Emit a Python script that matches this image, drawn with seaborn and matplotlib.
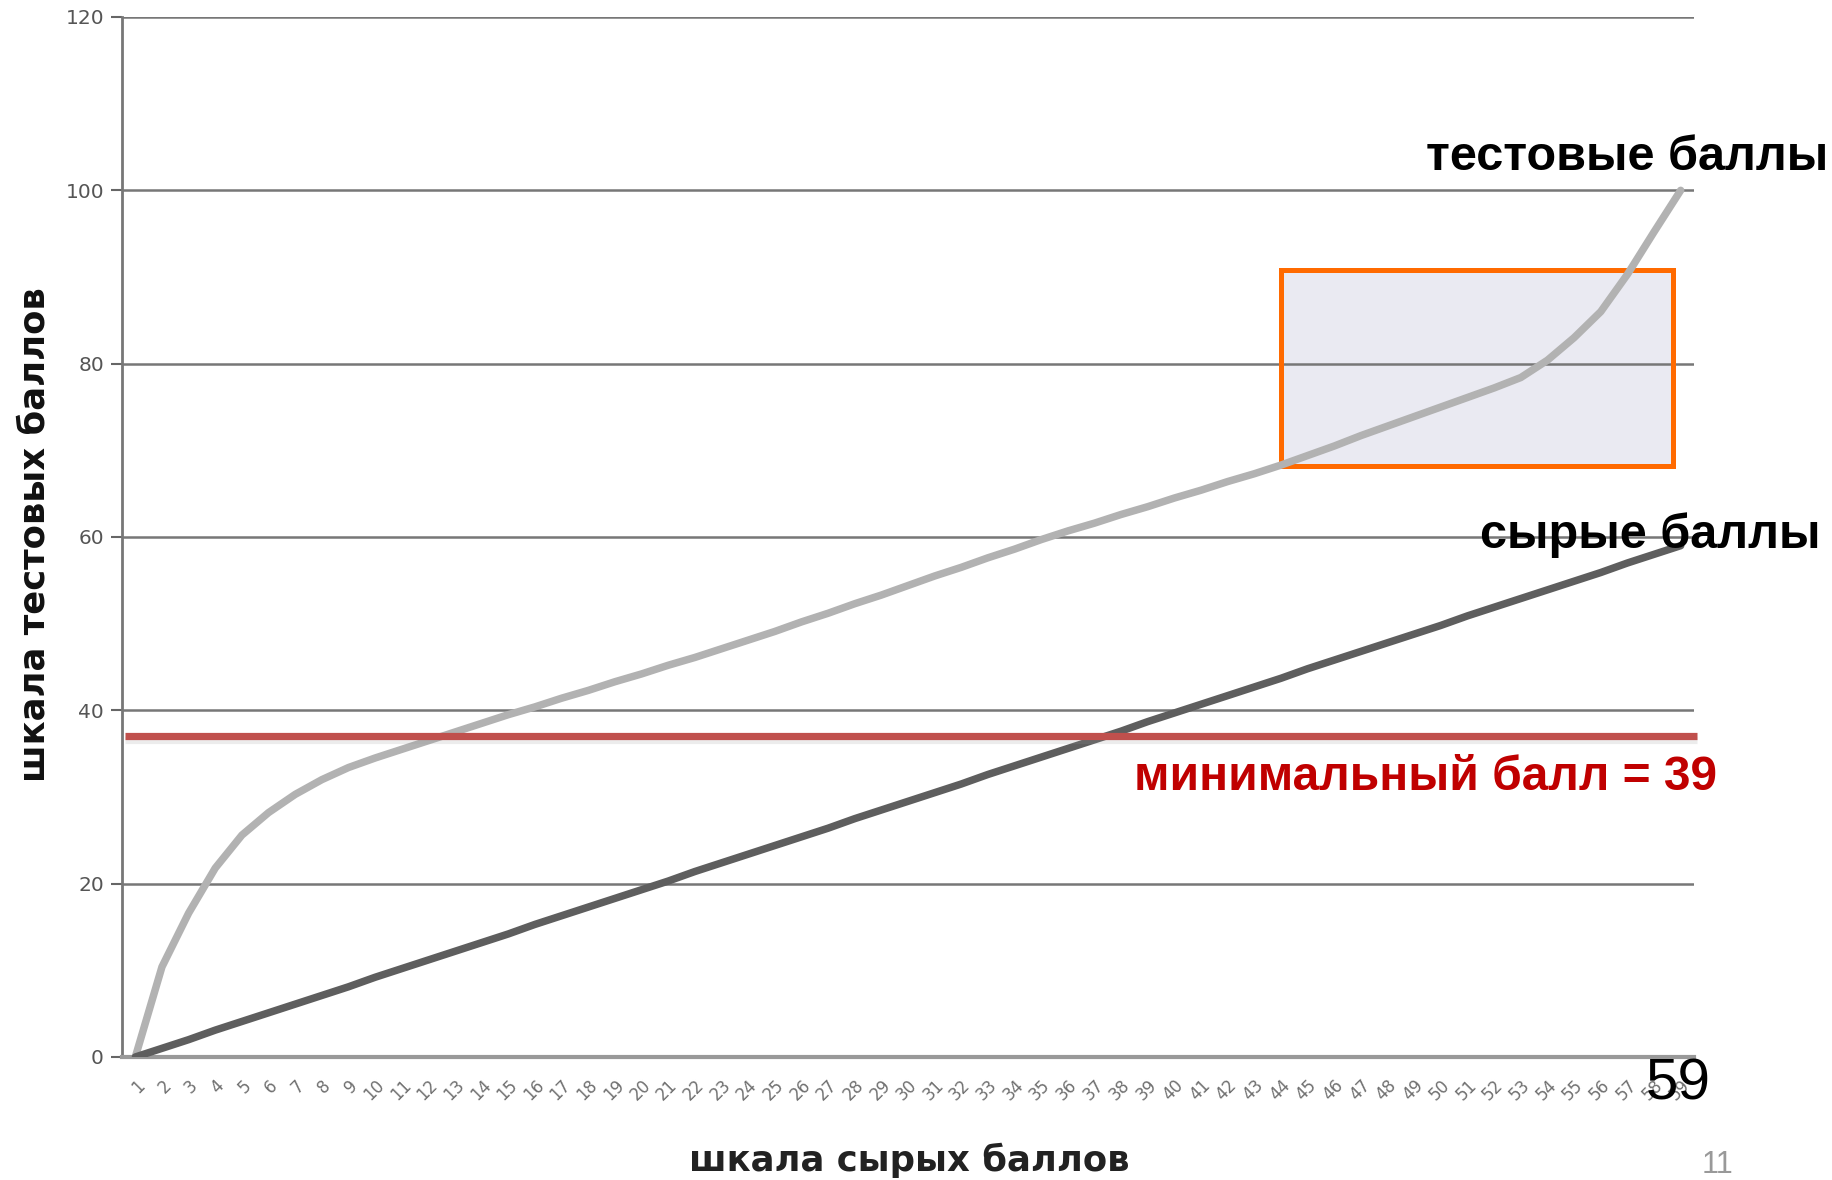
import numpy as np
import pandas as pd
import matplotlib
matplotlib.use("Agg")
import matplotlib.pyplot as plt
import matplotlib.patheffects as pe
from matplotlib.patches import Rectangle
import seaborn as sns

# ---------------- data ----------------
categories = [str(i) for i in range(1, 60)]
test_scores = [0, 10.4, 16.6, 21.8, 25.6, 28.2, 30.3, 32.0, 33.4, 34.5,
               35.5, 36.5, 37.5, 38.5, 39.5, 40.4, 41.4, 42.3, 43.3, 44.2,
               45.2, 46.1, 47.1, 48.1, 49.1, 50.2, 51.2, 52.3, 53.3, 54.4,
               55.5, 56.5, 57.6, 58.6, 59.7, 60.7, 61.6, 62.6, 63.5, 64.5,
               65.4, 66.4, 67.3, 68.3, 69.4, 70.5, 71.7, 72.8, 73.9, 75.0,
               76.1, 77.2, 78.4, 80.4, 83.0, 86.0, 90.3, 95.2, 100]
raw_scores = [0, 1.0, 2.0, 3.1, 4.1, 5.1, 6.1, 7.1, 8.1, 9.2,
              10.2, 11.2, 12.2, 13.2, 14.2, 15.3, 16.3, 17.3, 18.3, 19.3,
              20.3, 21.4, 22.4, 23.4, 24.4, 25.4, 26.4, 27.5, 28.5, 29.5,
              30.5, 31.5, 32.6, 33.6, 34.6, 35.6, 36.6, 37.6, 38.7, 39.7,
              40.7, 41.7, 42.7, 43.7, 44.8, 45.8, 46.8, 47.8, 48.8, 49.8,
              50.9, 51.9, 52.9, 53.9, 54.9, 55.9, 57.0, 58.0, 59.0]
min_score_line = 37
yticks = [0, 20, 40, 60, 80, 100, 120]
box_x = (43.0, 57.7)   # category index range of highlight box
box_y = (68.2, 90.8)

df = pd.DataFrame({
    "cat": categories * 2,
    "value": test_scores + raw_scores,
    "series": ["test"] * len(categories) + ["raw"] * len(categories),
})
df["idx"] = list(range(len(categories))) * 2

# ---------------- figure ----------------
sns.set_theme(style="white")
plt.rcParams["font.family"] = ["DejaVu Sans"]

W, H = 1833, 1180
fig = plt.figure(figsize=(W / 100, H / 100), dpi=100)
ax = fig.add_axes([122 / W, 1 - 1057 / H, (1694 - 122) / W, (1057 - 17) / H])

# highlight box (fill below gridlines, edge above)
ax.add_patch(Rectangle((box_x[0], box_y[0]), box_x[1] - box_x[0], box_y[1] - box_y[0],
                       facecolor="#EAEAF2", edgecolor="none", zorder=0.3))
ax.add_patch(Rectangle((box_x[0], box_y[0]), box_x[1] - box_x[0], box_y[1] - box_y[0],
                       facecolor="none", edgecolor="#FF6A00", lw=3.6, zorder=2.5))

sns.lineplot(data=df, x="idx", y="value", hue="series",
             palette={"test": "#B2B2B2", "raw": "#5E5E5E"},
             linewidth=5.4, legend=False, ax=ax, zorder=3)

# minimum score line
ax.plot([-0.39, 58.61], [min_score_line, min_score_line], color="#C0504D",
        lw=5.2, solid_capstyle="butt", clip_on=False, zorder=4,
        path_effects=[pe.SimpleLineShadow(offset=(0, -2.5), shadow_color="#999999", alpha=0.18),
                      pe.Normal()])

ax.set_xlim(-0.5, 58.5)
ax.set_ylim(0, 120)
ax.set_yticks(yticks)
ax.set_yticklabels([str(v) for v in yticks], fontsize=14.5, color="#555555")
ax.set_xticks(range(len(categories)))
ax.set_xticklabels(categories, fontsize=12, color="#707070", rotation=45,
                   ha="right", va="top", rotation_mode="anchor")
ax.tick_params(axis="y", length=8, width=1.5, color="#666666", pad=5, left=True)
ax.tick_params(axis="x", length=0, pad=14)
ax.yaxis.grid(True, color="#777777", lw=1.8)
ax.set_axisbelow(True)
for s in ["top", "right"]:
    ax.spines[s].set_visible(False)
ax.spines["left"].set_color("#777777")
ax.spines["left"].set_linewidth(2)
ax.spines["bottom"].set_color("#999999")
ax.spines["bottom"].set_linewidth(3)
ax.set_xlabel("")
ax.set_ylabel("")

# ---------------- texts ----------------
def ftext(x, y, s, **kw):
    fig.text(x / W, 1 - y / H, s, **kw)

ftext(1627, 158, "тестовые баллы", fontsize=35, fontweight="bold",
      family=["Liberation Sans"], ha="center", va="center", color="black")
ftext(1650, 535, "сырые баллы", fontsize=35, fontweight="bold",
      family=["Liberation Sans"], ha="center", va="center", color="black")
ftext(1426, 777, "минимальный балл = 39", fontsize=34.5, fontweight="bold",
      family=["Liberation Sans"], ha="center", va="center", color="#C00000")
ftext(1678, 1085, "59", fontsize=42, family=["Liberation Sans"],
      ha="center", va="center", color="black")
ftext(1718, 1165, "11", fontsize=22, family=["Liberation Sans"],
      ha="center", va="center", color="#999999")
ftext(909, 1160, "шкала сырых баллов", fontsize=25.5, fontweight="bold",
      ha="center", va="center", color="#222222")
ftext(35, 535, "шкала тестовых баллов", fontsize=25.5, fontweight="bold",
      ha="center", va="center", rotation=90, color="#111111")

fig.savefig("out.png", dpi=100)
